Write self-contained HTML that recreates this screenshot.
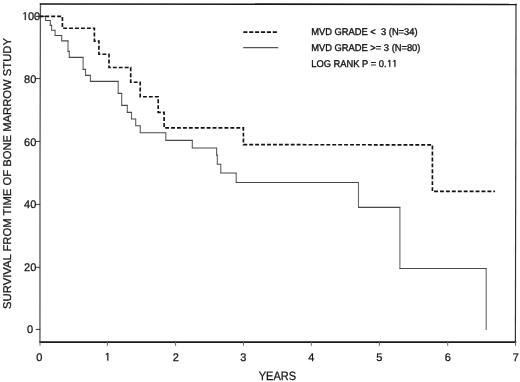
<!DOCTYPE html>
<html>
<head>
<meta charset="utf-8">
<style>
html,body{margin:0;padding:0;background:#fff;}
body{width:520px;height:382px;overflow:hidden;}
svg{display:block;filter:grayscale(1);}
text{font-family:"Liberation Sans",sans-serif;fill:#111;text-rendering:geometricPrecision;stroke:#111;stroke-width:0.25px;}
.h{fill:none;stroke:none;}
text.lg{stroke-width:0.35px;}
</style>
</head>
<body>
<svg width="520" height="382" viewBox="0 0 520 382">
<!-- frame -->
<path d="M40.45,3.5 L40.2,100 L40.0,160 L39.95,342" fill="none" stroke="#555" stroke-width="1.3"/>
<path d="M39.8,4.0 L516.6,4.5" stroke="#151515" stroke-width="1.7"/>
<path d="M516.0,3.5 L515.4,342" stroke="#333" stroke-width="1.2"/>
<path d="M39.4,342.1 H516.3" stroke="#1a1a1a" stroke-width="1.9"/>
<!-- y ticks -->
<g stroke="#333" stroke-width="1">
<path d="M35.9,16.4 H40.2"/>
<path d="M35.9,78.6 H40.2"/>
<path d="M35.9,141.4 H40.2"/>
<path d="M35.9,204.4 H40.2"/>
<path d="M35.9,267.3 H40.2"/>
<path d="M35.9,329.4 H40.2"/>
</g>
<!-- x ticks -->
<g stroke="#666" stroke-width="1">
<path d="M40,342 V345.8"/>
<path d="M107.4,342 V345.8"/>
<path d="M175.6,342 V345.8"/>
<path d="M243.45,342 V345.8"/>
<path d="M311.3,342 V345.8"/>
<path d="M379.4,342 V345.8"/>
<path d="M447.7,342 V345.8"/>
<path d="M515.5,342 V345.8"/>
</g>
<!-- y labels -->
<g font-size="11" text-anchor="middle">
<text id="t100" x="31" y="19.9"><tspan class="h">1</tspan>00</text>
<text x="30.2" y="82.6">80</text>
<text x="30.2" y="145.7">60</text>
<text x="30.2" y="208.2">40</text>
<text x="30.2" y="270.85">20</text>
<text x="30.0" y="333.45">0</text>
</g>
<!-- x labels -->
<g font-size="11" text-anchor="middle">
<text x="39.4" y="360.6">0</text>
<text id="t1" x="107.4" y="360.6"><tspan class="h">1</tspan></text>
<text x="175.9" y="360.6">2</text>
<text x="243.2" y="360.6">3</text>
<text x="311.2" y="360.6">4</text>
<text x="379.3" y="360.6">5</text>
<text x="447.9" y="360.6">6</text>
<text x="515.9" y="360.6">7</text>
</g>
<text transform="translate(277.4,379.6) scale(0.91,1)" font-size="12.1" text-anchor="middle">YEARS</text>
<text transform="translate(11.4,173.5) rotate(-90)" font-size="11.25" text-anchor="middle">SURVIVAL FROM TIME OF BONE MARROW STUDY</text>
<!-- legend -->
<path d="M243.3,32 H277.7" stroke="#111" stroke-width="1.75" stroke-dasharray="4.1 1.8"/>
<path d="M243.2,47.7 H278.2" stroke="#555" stroke-width="1.2"/>
<g font-size="9.8">
<text class="lg" transform="translate(311.3,35.3) scale(0.952,1)" xml:space="preserve">MVD GRADE &lt;  3 (N=34)</text>
<text class="lg" transform="translate(311.3,50.9) scale(0.952,1)" xml:space="preserve">MVD GRADE &gt;= 3 (N=80)</text>
<text class="lg" id="tlog" transform="translate(311.3,66.8) scale(0.952,1)">LOG RANK P = 0.<tspan class="h">11</tspan></text>
</g>
<!-- custom "1" glyphs -->
<path transform="translate(21.812,19.9) scale(0.005371,-0.005371)" d="M561,0 L561,1237 L300,1060 L300,1210 L576,1409 L742,1409 L742,0 Z" fill="#111" stroke="#111" stroke-width="46.5"/>
<path transform="translate(104.338,360.6) scale(0.005371,-0.005371)" d="M561,0 L561,1237 L300,1060 L300,1210 L576,1409 L742,1409 L742,0 Z" fill="#111" stroke="#111" stroke-width="46.5"/>
<g transform="translate(311.3,66.8) scale(0.952,1)"><path transform="translate(79.29,0) scale(0.004785,-0.004785)" d="M561,0 L561,1237 L300,1060 L300,1210 L576,1409 L742,1409 L742,0 Z" fill="#111" stroke="#111" stroke-width="73"/><path transform="translate(84.74,0) scale(0.004785,-0.004785)" d="M561,0 L561,1237 L300,1060 L300,1210 L576,1409 L742,1409 L742,0 Z" fill="#111" stroke="#111" stroke-width="73"/></g>
<!-- solid curve (MVD >= 3) -->
<path fill="none" stroke="#606060" stroke-width="1.1" d="M45.5,16.4 V20.5 M50.3,20.5 V25.4 M51.6,25.4 V30.2 M55.1,30.2 V35.5 M61.7,35.5 V40.8 M68.0,40.8 V51.3 M69.3,51.3 V57.4 M83.1,57.4 V69.3 M85.5,69.3 V75.3 M90.4,75.3 V81.4 M118.2,81.4 V93.4 M121.7,93.4 V105.4 M127.3,105.4 V112.3 M131.5,112.3 V119.0 M135.7,119.0 V125.7 M140.3,125.7 V132.7 M165.8,132.7 V140.3 M192.3,140.3 V148.0 M216.6,148.0 V155.1 M217.3,155.1 V164.2 M220.8,164.2 V173.0 M236.2,173.0 V182.5"/>
<path fill="none" stroke="#6a6a6a" stroke-width="1.1" d="M358.5,182.5 V207.4 M399.9,207.4 V268.5 M486.2,268.5 V330.0"/>
<path fill="none" stroke="#484848" stroke-width="1.15" d="M39.50,16.4 H46.00 M45.00,20.5 H50.80 M49.80,25.4 H52.10 M51.10,30.2 H55.60 M54.60,35.5 H62.20 M61.20,40.8 H68.50 M67.50,51.3 H69.80 M68.80,57.4 H83.60 M82.60,69.3 H86.00 M85.00,75.3 H90.90 M89.90,81.4 H118.70 M117.70,93.4 H122.20 M121.20,105.4 H127.80 M126.80,112.3 H132.00 M131.00,119.0 H136.20 M135.20,125.7 H140.80 M139.80,132.7 H166.30 M165.30,140.3 H192.80 M191.80,148.0 H217.10 M216.10,155.1 H217.80 M216.80,164.2 H221.30 M220.30,173.0 H236.70 M235.70,182.5 H359.00 M358.00,207.4 H400.40 M399.40,268.5 H486.70"/>
<!-- dashed curve (MVD < 3) -->
<path fill="none" stroke="#111" stroke-width="1.65" stroke-dasharray="3.9 2.031" stroke-dashoffset="0.611" d="M40,16.4 H62.4 V28.2 H94.4 V41.1 H98.9 V54.2 H109 V67.5 H130.7 V82.2 H140.2 V96.7 H158.2 V112.4 H164.1 V127.9 H243.4 V144.6 L432.4,144.9 V191.4 H495"/>
</svg>
</body>
</html>
